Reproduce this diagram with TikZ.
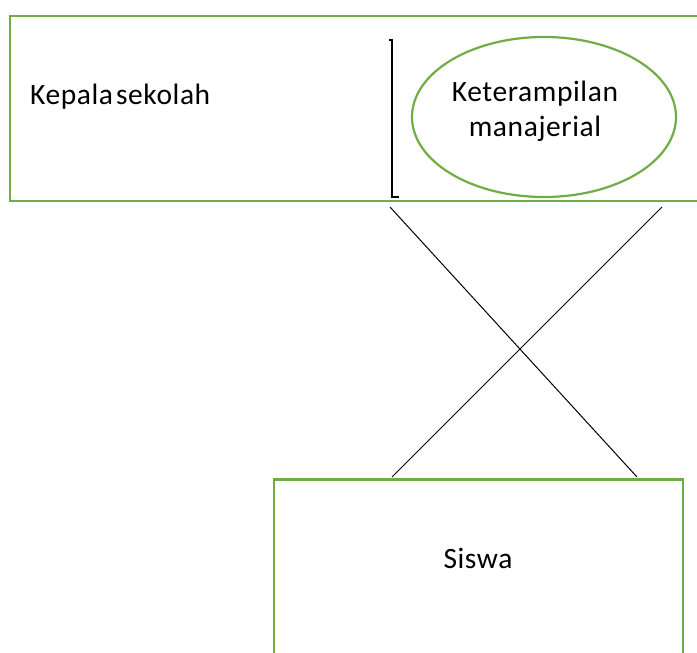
\documentclass[tikz,border=0pt]{standalone}
\usepackage{fontspec}
\setmainfont{Carlito}[LetterSpace=2]
\usetikzlibrary{shapes.geometric}
\definecolor{grn}{RGB}{112,173,71}
\tikzset{
  box/.style={draw=grn, line width=2pt},
  oval/.style={draw=grn, line width=2.2pt, ellipse, minimum width=264pt, minimum height=160pt, inner sep=0pt},
  lbl/.style={font=\fontsize{29.5}{35}\selectfont, align=center, inner sep=0pt},
  conn/.style={draw=black, line width=1pt}
}
\begin{document}
\begin{tikzpicture}[x=1pt,y=1pt]
\useasboundingbox (0,0) rectangle (697,-653);
\clip (0,0) rectangle (697,-653);
% top box
\draw[box] (10,-16) rectangle (720,-201);
\node[lbl, anchor=west] (kepala) at (30,-97) {Kepala\hspace{0.1em}sekolah};
% bracket
\draw[line width=1.3pt] (389,-40) -- (392,-40) -- (392,-197) -- (399,-197);
% ellipse
\node[oval] (ov) at (544,-117) {};
\node[lbl] (ket) at (535,-111) {Keterampilan\\manajerial};
% bottom box
\draw[box] (274,-479) rectangle (683,-700);
\draw[draw=grn, line width=3pt] (274,-479) -- (683,-479);
\node[lbl] (siswa) at (478,-558) {Siswa};
% connectors
\coordinate (a1) at (390,-207);
\coordinate (a2) at (637,-477);
\coordinate (b1) at (662,-207);
\coordinate (b2) at (392,-477);
\draw[conn] (a1) -- (a2);
\draw[conn] (b1) -- (b2);
\end{tikzpicture}
\end{document}
